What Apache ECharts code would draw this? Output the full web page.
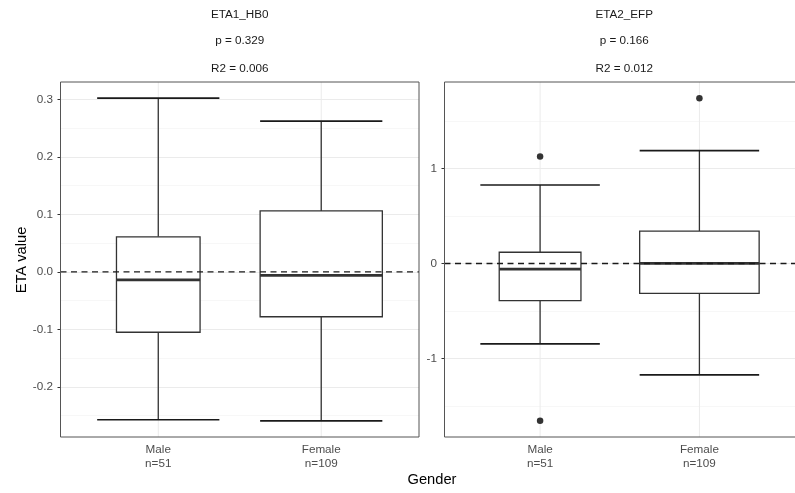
<!DOCTYPE html>
<html><head><meta charset="utf-8">
<script src="https://cdn.jsdelivr.net/npm/echarts@6/dist/echarts.min.js"></script>
<style>html,body{margin:0;padding:0;background:#fff}#c{width:795px;height:493px}</style>
</head><body><div id="c"></div>
<script>
// ---------------- data ----------------
const categories = ['Male', 'Female'];
const counts = [51, 109];
const panelNames = ['ETA1_HB0', 'ETA2_EFP'];
const pValues = ['0.329', '0.166'];
const r2Values = ['0.006', '0.012'];
// [lower whisker, Q1, median, Q3, upper whisker] for Male, Female
const eta1Stats = [[-0.257, -0.105, -0.014, 0.061, 0.302], [-0.259, -0.078, -0.006, 0.106, 0.262]];
const eta2Stats = [[-0.845, -0.390, -0.060, 0.118, 0.825], [-1.171, -0.314, 0.002, 0.341, 1.186]];
const eta1Outliers = [[], []];
const eta2Outliers = [[1.124, -1.654], [1.738]];
const eta1Ticks = [-0.2, -0.1, 0, 0.1, 0.2, 0.3];
const eta2Ticks = [-1, 0, 1];
const xTickValues = [1, 2];
const yAxisTitle = 'ETA value';
const xAxisTitle = 'Gender';

// ---------------- layout / style ----------------
const FONT = '"Liberation Sans", Arial, Helvetica, sans-serif';
const TOP = 82, HEIGHT = 355;
const layout = [{ left: 60.5, width: 358.5 }, { left: 444.5, width: 359.5 }];
const CAP_W = 0.75, BOX_W = 0.75;
const maxSqrt = Math.sqrt(Math.max(...counts));

const panels = [
  { stats: eta1Stats, outliers: eta1Outliers, ticks: eta1Ticks, fmt: v => v.toFixed(1) },
  { stats: eta2Stats, outliers: eta2Outliers, ticks: eta2Ticks, fmt: v => String(Math.round(v)) }
];

function extentOf(p) {
  const all = [];
  p.stats.forEach(s => all.push(...s));
  p.outliers.forEach(o => all.push(...o));
  const lo = Math.min(...all), hi = Math.max(...all), r = hi - lo;
  return [lo - 0.05 * r, hi + 0.05 * r];
}

const grid = [], xAxis = [], yAxis = [], series = [], graphic = [];

panels.forEach((p, i) => {
  const ext = extentOf(p);
  grid.push({ left: layout[i].left, top: TOP, width: layout[i].width, height: HEIGHT, show: false });
  xAxis.push({
    type: 'value', gridIndex: i, min: 0.4, max: 2.6,
    axisLine: { show: false },
    axisTick: { show: true, customValues: xTickValues, length: 3, lineStyle: { color: '#333', width: 1 } },
    axisLabel: {
      customValues: xTickValues, margin: 6.5, color: '#4d4d4d', fontSize: 11.7, lineHeight: 13.4, fontFamily: FONT,
      formatter: v => { const k = Math.round(v) - 1; return categories[k] + '\nn=' + counts[k]; }
    },
    splitLine: { show: false }
  });
  yAxis.push({
    type: 'value', gridIndex: i, min: ext[0], max: ext[1],
    axisLine: { show: false },
    axisTick: { show: true, customValues: p.ticks, length: 3, lineStyle: { color: '#333', width: 1 } },
    axisLabel: { customValues: p.ticks, margin: 7.5, color: '#4d4d4d', fontSize: 11.7, fontFamily: FONT, formatter: p.fmt },
    splitLine: { show: true, lineStyle: { color: '#ebebeb', width: 1 } },
    minorTick: { show: false, splitNumber: 2 },
    minorSplitLine: { show: true, lineStyle: { color: '#f3f3f3', width: 0.7 } }
  });

  // vertical major gridlines at category positions
  series.push({
    type: 'custom', xAxisIndex: i, yAxisIndex: i, z: 1, silent: true,
    data: xTickValues.map(v => [v, 0]),
    renderItem: (params, api) => {
      const cs = params.coordSys;
      const x = api.coord([api.value(0), api.value(1)])[0];
      return { type: 'line', shape: { x1: x, y1: cs.y, x2: x, y2: cs.y + cs.height }, style: { stroke: '#ebebeb', lineWidth: 1 } };
    }
  });

  // boxplots
  series.push({
    type: 'custom', xAxisIndex: i, yAxisIndex: i, z: 2, silent: true,
    encode: { x: 0, y: [1, 2, 3, 4, 5] },
    data: p.stats.map((s, k) => [k + 1, ...s]),
    renderItem: (params, api) => {
      const x = api.value(0);
      const v = [1, 2, 3, 4, 5].map(d => api.coord([x, api.value(d)])[1]);
      const cx = api.coord([x, 0])[0];
      const k = params.dataIndex;
      const hb = api.size([BOX_W * Math.sqrt(counts[k]) / maxSqrt, 0])[0] / 2;
      const hc = api.size([CAP_W, 0])[0] / 2;
      const box = { stroke: '#333', lineWidth: 1.3, fill: null };
      return {
        type: 'group', children: [
          { type: 'line', shape: { x1: cx, y1: v[3], x2: cx, y2: v[4] }, style: box },
          { type: 'line', shape: { x1: cx, y1: v[1], x2: cx, y2: v[0] }, style: box },
          { type: 'line', shape: { x1: cx - hc, y1: v[4], x2: cx + hc, y2: v[4] }, style: { stroke: '#1a1a1a', lineWidth: 1.6 } },
          { type: 'line', shape: { x1: cx - hc, y1: v[0], x2: cx + hc, y2: v[0] }, style: { stroke: '#1a1a1a', lineWidth: 1.6 } },
          { type: 'rect', shape: { x: cx - hb, y: v[3], width: 2 * hb, height: v[1] - v[3] }, style: { stroke: '#333', lineWidth: 1.3, fill: '#fff' } },
          { type: 'line', shape: { x1: cx - hb, y1: v[2], x2: cx + hb, y2: v[2] }, style: { stroke: '#333', lineWidth: 2.8 } }
        ]
      };
    }
  });

  // outliers
  const od = [];
  p.outliers.forEach((arr, k) => arr.forEach(val => od.push([k + 1, val])));
  series.push({
    type: 'scatter', xAxisIndex: i, yAxisIndex: i, z: 3, silent: true,
    symbolSize: 6.5, itemStyle: { color: '#333', opacity: 1 }, data: od
  });

  // dashed reference line at 0
  series.push({
    type: 'custom', xAxisIndex: i, yAxisIndex: i, z: 4, silent: true,
    data: [[1, 0]],
    renderItem: (params, api) => {
      const cs = params.coordSys;
      const y = api.coord([api.value(0), api.value(1)])[1];
      return { type: 'line', shape: { x1: cs.x, y1: y, x2: cs.x + cs.width, y2: y }, style: { stroke: '#1a1a1a', lineWidth: 1.3, lineDash: [6, 4.5] } };
    }
  });

  // panel border
  graphic.push({
    type: 'rect', z: 100, silent: true,
    shape: { x: layout[i].left, y: TOP, width: layout[i].width, height: HEIGHT },
    style: { fill: null, stroke: '#555', lineWidth: 1 }
  });

  // strip titles
  const cx = layout[i].left + layout[i].width / 2;
  [[panelNames[i], 15], ['p = ' + pValues[i], 41], ['R2 = ' + r2Values[i], 69]].forEach(([t, y]) => {
    graphic.push({
      type: 'text', x: cx, y: y, silent: true,
      style: { text: t, fill: '#1a1a1a', fontSize: 11.7, fontFamily: FONT, align: 'center', verticalAlign: 'middle' }
    });
  });
});

graphic.push({
  type: 'text', x: 22, y: 260, rotation: Math.PI / 2, silent: true,
  style: { text: yAxisTitle, fill: '#000', fontSize: 14.7, fontFamily: FONT, align: 'center', verticalAlign: 'middle' }
});
graphic.push({
  type: 'text', x: 432, y: 480, silent: true,
  style: { text: xAxisTitle, fill: '#000', fontSize: 14.7, fontFamily: FONT, align: 'center', verticalAlign: 'middle' }
});

const chart = echarts.init(document.getElementById('c'), null, { renderer: 'canvas' });
chart.setOption({ animation: false, backgroundColor: '#fff', grid, xAxis, yAxis, series, graphic });
</script>
</body></html>
